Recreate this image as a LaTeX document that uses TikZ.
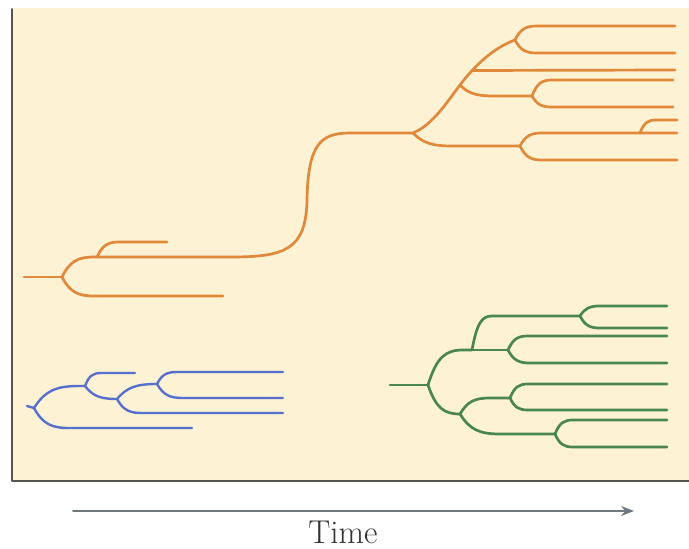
\documentclass[tikz,border=0pt]{standalone}
\usepackage{fontspec}
\usetikzlibrary{calc,arrows.meta}

\definecolor{paper}{RGB}{253,242,212}
\definecolor{framegray}{RGB}{85,85,80}
\definecolor{orangeline}{RGB}{224,137,58}
\definecolor{blueline}{RGB}{88,112,205}
\definecolor{greenline}{RGB}{74,135,78}
\definecolor{arrowgray}{RGB}{110,120,125}

\begin{document}
\begin{tikzpicture}[x=1pt,y=-1pt,line cap=round,line join=round,
  % a branch leaving a fork point, bending into a horizontal lineage
  fork/.style={to path={let \p1=(\tikztostart), \p2=(\tikztotarget) in
    .. controls ({\x1+0.25*#1},{\y1+0.8*(\y2-\y1)}) and ({\x1+0.5*#1},\y2) .. ({\x1+#1},\y2)
    -- (\tikztotarget)}},
  org/.style={draw=orangeline,line width=2.7pt},
  blu/.style={draw=blueline,line width=2.4pt},
  grn/.style={draw=greenline,line width=2.7pt},
  framerule/.style={draw=framegray,line width=1.8pt},
  timearrow/.style={draw=arrowgray,line width=1.8pt,-{Stealth[length=13pt,width=10pt]}},
  timelabel/.style={font=\fontsize{33}{36}\selectfont,text=black!80,inner sep=0pt,anchor=base}]

\useasboundingbox (0,0) rectangle (689,549);

% panel
\fill[paper] (12,8) rectangle (689,481);
\draw[framerule] (12,9) -- (12,481) -- (689,481);

% ---------- orange lineage ----------
\coordinate (o0) at (24,277);
\coordinate (o1) at (62,277);
\coordinate (o2) at (97,257);
\coordinate (o2t) at (167,242);
\coordinate (o1t) at (223,296);
\coordinate (o3) at (413,133);
\coordinate (o4) at (460,85);
\coordinate (o5) at (515,40);
\coordinate (o6) at (472,70.5);
\coordinate (o5a) at (675,26);
\coordinate (o5b) at (675,53);
\coordinate (o6t) at (675,70);
\coordinate (o7) at (532,96);
\coordinate (o7a) at (673,80);
\coordinate (o7b) at (673,107);
\coordinate (o8) at (520,146);
\coordinate (o9) at (640,133);
\coordinate (o8a) at (677,133);
\coordinate (o8b) at (677,160);
\coordinate (o9t) at (677,120);

\draw[org] (o0) -- (o1);
\draw[org] (o1) to[fork=32] (o2);
\draw[org] (o1) to[fork=32] (o1t);
\draw[org] (o2) to[fork=22] (o2t);
\draw[org] (o2) -- (230,257) .. controls (285,257) and (306,250) .. (307,200)
  .. controls (308,145) and (320,133) .. (350,133) -- (o3);
\draw[org] (o3) .. controls (432,125) and (445,105) .. (o4)
  .. controls (475,65) and (495,47) .. (o5);
\draw[org] (o5) to[fork=22] (o5a);
\draw[org] (o5) to[fork=22] (o5b);
\draw[org] (o6) -- (o6t);
\draw[org] (o4) to[fork=34] (o7);
\draw[org] (o7) to[fork=20] (o7a);
\draw[org] (o7) to[fork=20] (o7b);
\draw[org] (o3) to[fork=40] (o8);
\draw[org] (o8) to[fork=22] (o8a);
\draw[org] (o8) to[fork=22] (o8b);
\draw[org] (o9) to[fork=16] (o9t);

% ---------- blue lineage ----------
\coordinate (b0) at (27,406);
\coordinate (b1) at (34,408);
\coordinate (bA) at (85,386);
\coordinate (bAt) at (135,373);
\coordinate (bB) at (117,399);
\coordinate (bC) at (157,384);
\coordinate (bCa) at (283,372);
\coordinate (bCb) at (283,398);
\coordinate (bBt) at (283,413);
\coordinate (b1t) at (192,428);

\draw[blu] (b0) -- (b1);
\draw[blu] (b1) to[fork=45] (bA);
\draw[blu] (b1) to[fork=35] (b1t);
\draw[blu] (bA) to[fork=16] (bAt);
\draw[blu] (bA) to[fork=32] (bB);
\draw[blu] (bB) to[fork=40] (bC);
\draw[blu] (bB) to[fork=25] (bBt);
\draw[blu] (bC) to[fork=20] (bCa);
\draw[blu] (bC) to[fork=26] (bCb);

% ---------- green lineage ----------
\coordinate (g0) at (390,385);
\coordinate (gR) at (428,385);
\coordinate (gA) at (472,350);
\coordinate (gB) at (580,316);
\coordinate (gBa) at (667,306);
\coordinate (gBb) at (667,328);
\coordinate (gC) at (508,350);
\coordinate (gCa) at (667,336);
\coordinate (gCb) at (667,363);
\coordinate (gD) at (460,414);
\coordinate (gE) at (510,398);
\coordinate (gEa) at (667,384);
\coordinate (gEb) at (667,410);
\coordinate (gF) at (555,434);
\coordinate (gFa) at (667,420);
\coordinate (gFb) at (667,447);

\draw[grn] (g0) -- (gR);
\draw[grn] (gR) to[fork=35] (gA);
\draw[grn] (gA) to[fork=20] (gB);
\draw[grn] (gA) -- (gC);
\draw[grn] (gB) to[fork=20] (gBa);
\draw[grn] (gB) to[fork=20] (gBb);
\draw[grn] (gC) to[fork=20] (gCa);
\draw[grn] (gC) to[fork=22] (gCb);
\draw[grn] (gR) to[fork=32] (gD);
\draw[grn] (gD) to[fork=30] (gE);
\draw[grn] (gD) to[fork=40] (gF);
\draw[grn] (gE) to[fork=18] (gEa);
\draw[grn] (gE) to[fork=18] (gEb);
\draw[grn] (gF) to[fork=18] (gFa);
\draw[grn] (gF) to[fork=18] (gFb);

% ---------- time axis ----------
\coordinate (ta) at (73,511);
\coordinate (tb) at (634,511);
\draw[timearrow] (ta) -- (tb);
\node[timelabel] (time) at (343,543) {Time};

\end{tikzpicture}
\end{document}
